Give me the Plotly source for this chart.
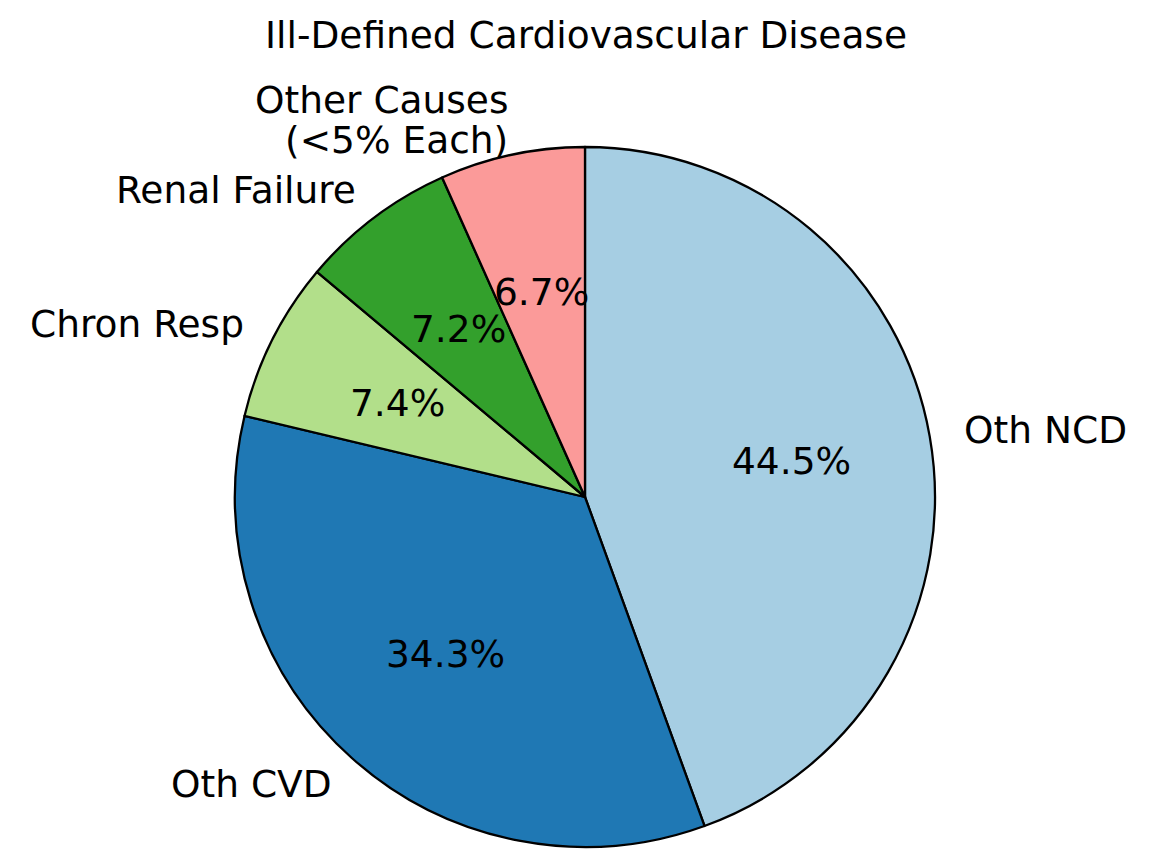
import math
import plotly.graph_objects as go

labels = ["Oth NCD", "Oth CVD", "Chron Resp", "Renal Failure", "Other Causes\n(<5% Each)"]
values = [44.5, 34.3, 7.4, 7.2, 6.7]
colors = ["#a6cee3", "#1f78b4", "#b2df8a", "#33a02c", "#fb9a99"]

W, H = 1169, 850
off = 8  # page body margin
cx, cy, r = 585 - off, 497 - off, 350
font = dict(family="DejaVu Sans", size=37.5, color="black")
line_gap = 40

fig = go.Figure(go.Pie(
    labels=[l.replace("\n", " ") for l in labels], values=values, sort=False,
    direction="clockwise", rotation=0,
    marker=dict(colors=colors, line=dict(color="black", width=2.3)),
    textinfo="none", hoverinfo="label+percent", showlegend=False,
    domain=dict(x=[(cx - r) / W, (cx + r) / W], y=[(H - cy - r) / H, (H - cy + r) / H]),
))

# matplotlib-style labels: names at 1.1 r, percents at 0.6 r
total = sum(values)
cum = 0
for lab, v in zip(labels, values):
    mid = (cum + v / 2) / total
    cum += v
    a = math.radians(90 - 360 * mid)
    ca, sa = math.cos(a), math.sin(a)
    lx, ly = cx + 1.1 * r * ca, cy - 1.1 * r * sa
    px, py = cx + 0.6 * r * ca, cy - 0.6 * r * sa
    side = "left" if ca > 0 else "right"
    lines = lab.split("\n")
    for i, t in enumerate(lines):
        yy = ly + (i - (len(lines) - 1) / 2) * line_gap
        fig.add_annotation(x=lx / W, y=1 - yy / H, xref="paper", yref="paper", text=t,
                           showarrow=False, xanchor=side, yanchor="middle", font=font,
                           borderpad=0, borderwidth=0, xshift=0 if side == "left" else 3)
    fig.add_annotation(x=px / W, y=1 - py / H, xref="paper", yref="paper",
                       text=f"{100 * v / total:.1f}%", showarrow=False,
                       xanchor="center", yanchor="middle", font=font,
                       borderpad=0, borderwidth=0)

fig.update_layout(
    width=W, height=H, margin=dict(l=0, r=0, t=0, b=0),
    paper_bgcolor="white", plot_bgcolor="white",
    title=dict(text="Ill-Defined Cardiovascular Disease", x=(586 - off) / W, xanchor="center",
               y=1 - (35 - off) / H, yanchor="middle", font=font),
)
fig.write_html("out.html")
